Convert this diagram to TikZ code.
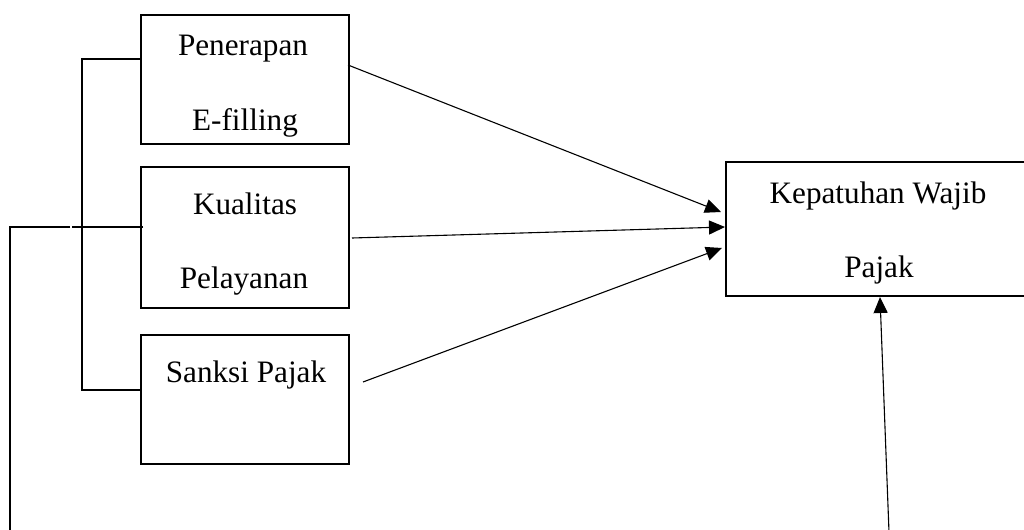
\documentclass[tikz,border=0pt]{standalone}
\usepackage{fontspec}
\setmainfont{Liberation Serif}
\usetikzlibrary{arrows.meta,calc}
\begin{document}
\begin{tikzpicture}[x=0.5pt,y=-0.5pt,
  varbox/.style={draw,line width=1pt,rectangle,inner sep=0pt},
  lbl/.style={anchor=base,inner sep=0pt,font=\fontsize{15.6}{18}\selectfont},
  link/.style={line width=0.55pt},
  arr/.style={line width=0.55pt,-{Triangle[length=8pt,width=7pt]}}]
\useasboundingbox (0,0) rectangle (1024,530);
\clip (0,0) rectangle (1024,530);

% variable boxes
\node[varbox,minimum width=104pt,minimum height=64.5pt] (pen) at (245,79.5) {};
\node[varbox,minimum width=104pt,minimum height=70.5pt] (kua) at (245,237.5) {};
\node[varbox,minimum width=104pt,minimum height=64.5pt] (san) at (245,399.5) {};
\node[varbox,minimum width=152pt,minimum height=67pt] (kep) at (878,229) {};

% labels
\node[lbl] (penA) at (243,55) {Penerapan};
\node[lbl] (penB) at (245,130) {E-filling};
\node[lbl] (kuaA) at (245,214) {Kualitas};
\node[lbl] (kuaB) at (244,288) {Pelayanan};
\node[lbl] (sanA) at (246,382) {Sanksi Pajak};
\node[lbl] (kepA) at (878,203) {Kepatuhan Wajib};
\node[lbl] (kepB) at (879,277) {Pajak};

% bracket joining the three independent variables
\draw[link] ($(pen.west)+(0,-20.5)$) -| (82,390) -- ($(san.west)+(0,-9.5)$);

% outer line leaving the middle box
\coordinate (gapR) at (72,227);
\coordinate (gapL) at (70,227);
\coordinate (outB) at (10,532);
\draw[link] ($(kua.west)+(3,-10.5)$) -- (gapR);
\draw[link] (gapL) -| (outB);

% arrows to the dependent variable
\draw[arr] ($(pen.east)+(-2,-14.5)$) -- ($(kep.west)+(-4,-17)$);
\draw[arr] ($(kua.east)+(2,0.5)$) -- ($(kep.west)+(0,-2)$);
\draw[arr] ($(san.east)+(13,-17.5)$) -- ($(kep.west)+(-3,19)$);

\coordinate (botS) at (889,532);
\draw[arr] (botS) -- ($(kep.south)+(2,0)$);
\end{tikzpicture}
\end{document}
